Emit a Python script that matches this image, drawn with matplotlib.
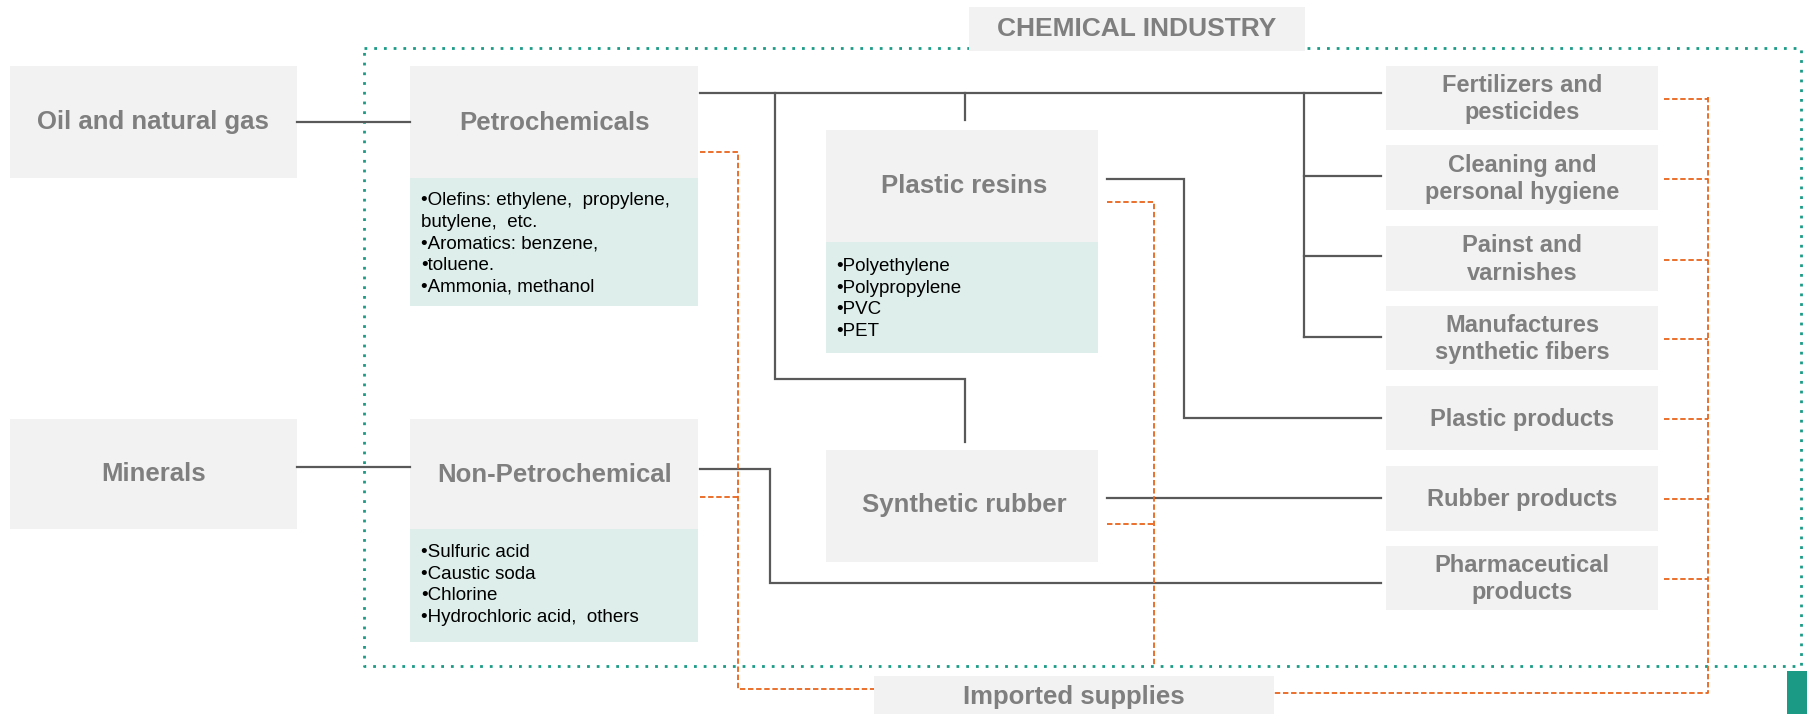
import matplotlib
matplotlib.use('Agg')
import matplotlib.pyplot as plt
from matplotlib.patches import Rectangle
from matplotlib import font_manager

names = {f.name for f in font_manager.fontManager.ttflist}
FONT = 'Liberation Sans Narrow' if 'Liberation Sans Narrow' in names else 'Liberation Sans'

# labels
title_label = "CHEMICAL INDUSTRY"
source_labels = ["Oil and natural gas", "Minerals"]
base_labels = ["Petrochemicals", "Non-Petrochemical"]
base_items = [
    ["•Olefins: ethylene,  propylene,", "butylene,  etc.", "•Aromatics: benzene,",
     "•toluene.", "•Ammonia, methanol"],
    ["•Sulfuric acid", "•Caustic soda", "•Chlorine", "•Hydrochloric acid,  others"],
]
mid_labels = ["Plastic resins", "Synthetic rubber"]
resin_items = ["•Polyethylene", "•Polypropylene", "•PVC", "•PET"]
product_labels = ["Fertilizers and\npesticides", "Cleaning and\npersonal hygiene",
                  "Painst and\nvarnishes", "Manufactures\nsynthetic fibers",
                  "Plastic products", "Rubber products", "Pharmaceutical\nproducts"]
import_label = "Imported supplies"

GRAY_BOX = '#f2f2f2'
TEAL_BOX = '#ddeeeb'
TXT = '#7f7f7f'
LINE = '#595959'
ORANGE = '#e8641b'
TEAL = '#1b9a86'

fig = plt.figure(figsize=(18.08, 7.14), dpi=100)
ax = fig.add_axes([0, 0, 1, 1])
ax.set_xlim(0, 1568)
ax.set_ylim(619, 0)
ax.axis('off')


def box(x0, y0, x1, y1, color=GRAY_BOX, z=2):
    ax.add_patch(Rectangle((x0, y0), x1 - x0, y1 - y0, facecolor=color, edgecolor='none', zorder=z))


def label(x, y, s, size=18.5):
    ax.text(x, y, s, ha='center', va='center', fontsize=size, fontweight='bold', color=TXT,
            family=FONT, zorder=5, linespacing=1.25)


def items(x, y, lines):
    for i, s in enumerate(lines):
        ax.text(x, y + i * 18.8, s, ha='left', va='center', fontsize=13.5, color='black',
                family=FONT, zorder=5)


def solid(xs, ys):
    ax.plot(xs, ys, color=LINE, lw=1.6, zorder=3, solid_joinstyle='miter')


def dashed(xs, ys):
    ax.plot(xs, ys, color=ORANGE, lw=1.3, ls=(0, (3, 1.5)), zorder=3)


# chemical industry frame
ax.plot([316, 1562, 1562, 316, 316], [42, 42, 577, 577, 42], color=TEAL, lw=2,
        ls=(0, (1, 2.5)), zorder=1)
box(840, 6, 1132, 44, z=4)
label(986, 25, title_label, size=19)

# sources
for (y0, y1), s in zip([(57, 154), (363, 459)], source_labels):
    box(9, y0, 258, y1)
    label(133, (y0 + y1) / 2, s)

# base chemicals
base_y = [(57, 154, 265), (363, 459, 557)]
for (y0, y1, y2), s, its in zip(base_y, base_labels, base_items):
    box(356, y0, 605, y1)
    box(356, y1, 605, y2, TEAL_BOX)
    label(481, (y0 + y1) / 2 + 1, s)
    items(365, y1 + 20, its)

# plastic resins and synthetic rubber
box(716, 113, 952, 210)
box(716, 210, 952, 306, TEAL_BOX)
label(836, 161, mid_labels[0])
items(725, 231, resin_items)
box(716, 390, 952, 487)
label(836, 438, mid_labels[1])

# products
prod_y = [(57, 113), (126, 182), (196, 252), (265, 321), (335, 390), (404, 460), (473, 529)]
for (y0, y1), s in zip(prod_y, product_labels):
    box(1202, y0, 1438, y1)
    label(1320, (y0 + y1) / 2 + 1, s, size=17)

# imported supplies
box(758, 586, 1105, 625)
label(931, 604, import_label)
ax.add_patch(Rectangle((1550, 582), 20, 40, facecolor=TEAL, edgecolor='none', zorder=4))

# solid flow lines
solid([258, 356], [106, 106])
solid([258, 356], [405, 405])
solid([607, 1198], [81, 81])
solid([672, 672, 837, 837], [81, 329, 329, 383])
solid([837, 837], [81, 104])
solid([1131, 1131], [81, 292])
for yy in [153, 222, 292]:
    solid([1131, 1198], [yy, yy])
solid([960, 1027, 1027, 1198], [155, 155, 362, 362])
solid([960, 1198], [432, 432])
solid([607, 668, 668, 1198], [407, 407, 505, 505])

# dashed import lines
dashed([607, 640, 640, 758], [132, 132, 597, 597])
dashed([607, 640], [431, 431])
dashed([960, 1001, 1001], [175, 175, 577])
dashed([960, 1000], [454, 454])
for (y0, y1) in prod_y:
    dashed([1443, 1481], [(y0 + y1) / 2 + 1, (y0 + y1) / 2 + 1])
dashed([1481, 1481, 1105], [84, 601, 601])

fig.savefig('out.png', dpi=100)
